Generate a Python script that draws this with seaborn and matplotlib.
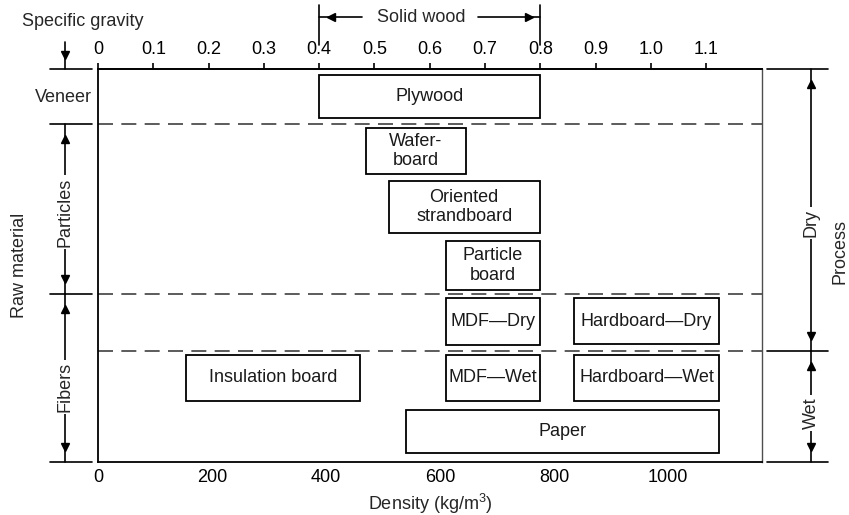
import matplotlib
matplotlib.use("Agg")
import numpy as np
import pandas as pd
import matplotlib.pyplot as plt
import seaborn as sns

# board products and their density ranges (kg/m3)
boards = ["Plywood", "Wafer-\nboard", "Oriented\nstrandboard", "Particle\nboard",
          "MDF—Dry", "Hardboard—Dry", "Insulation board", "MDF—Wet",
          "Hardboard—Wet", "Paper"]
dens_lo = [388, 470, 510, 610, 610, 835, 155, 610, 835, 540]
dens_hi = [776, 645, 775, 775, 775, 1090, 460, 775, 1090, 1090]
# vertical extent of each box on the chart (top -> bottom units)
row_top = [75, 128, 181, 241, 298, 298, 355, 355, 355, 410]
row_bot = [118, 174, 233, 290, 345, 344, 401, 401, 401, 453]

# dashed separators between raw material / process groups
separators = [124, 294, 351]

dens_ticks = [0, 200, 400, 600, 800, 1000]
sg_ticks = [0, 0.1, 0.2, 0.3, 0.4, 0.5, 0.6, 0.7, 0.8, 0.9, 1.0, 1.1]
sg_labels = ["0", "0.1", "0.2", "0.3", "0.4", "0.5", "0.6", "0.7", "0.8", "0.9", "1.0", "1.1"]
SG_FACTOR = 970  # kg/m3 per unit specific gravity on this chart

df = pd.DataFrame({"board": boards, "lo": dens_lo, "hi": dens_hi,
                   "top": row_top, "bot": row_bot})
df["width"] = df["hi"] - df["lo"]
df["mid"] = (df["top"] + df["bot"]) / 2
df["h"] = df["bot"] - df["top"]

sns.set_theme(style="white")
plt.rcParams["font.family"] = ["Liberation Sans", "DejaVu Sans"]
plt.rcParams["mathtext.fontset"] = "custom"
plt.rcParams["mathtext.rm"] = "Liberation Sans"
FS = 13

fig = plt.figure(figsize=(8.49, 5.15), dpi=100)
ax = fig.add_axes([98 / 849, 1 - 462 / 515, 664 / 849, 393 / 515])
ax.set_xlim(0, 1165)
ax.set_ylim(462, 69)

ax.barh(df["mid"], df["width"], left=df["lo"], height=df["h"],
        color="white", edgecolor="black", linewidth=1.3, zorder=3)
for _, r in df.iterrows():
    ax.text((r["lo"] + r["hi"]) / 2, r["mid"], r["board"], ha="center", va="center",
            fontsize=FS, linespacing=1.2, color="0.1", zorder=4)

for y in separators:
    ax.axhline(y, color="0.25", lw=1.2, dashes=(9, 5), zorder=2)

for s in ax.spines.values():
    s.set_color("black")
    s.set_linewidth(1.3)
ax.spines["right"].set_color("0.3")
ax.spines["right"].set_linewidth(1.0)

ax.set_yticks([])
ax.set_xticks(dens_ticks)
ax.set_xticklabels([str(t) for t in dens_ticks], fontsize=FS)
ax.tick_params(axis="x", direction="in", length=9, width=1.2, pad=5, colors="black")
ax.set_xlabel(r"Density (kg/m$\mathrm{^3}$)", fontsize=FS, labelpad=4)

sec = ax.secondary_xaxis("top", functions=(lambda d: d / SG_FACTOR, lambda s: s * SG_FACTOR))
sec.set_xticks(sg_ticks)
sec.set_xticklabels(sg_labels, fontsize=FS)
sec.tick_params(direction="out", length=4, width=1.2, pad=4, colors="black")
sec.spines["top"].set_linewidth(1.3)

k = dict(color="black", lw=1.2, clip_on=False)
mk = dict(color="black", ms=5.5, clip_on=False, ls="none")
wb = dict(facecolor="white", edgecolor="none", pad=1.5)

# solid wood bracket above the top axis
x0, x1 = 0.4 * SG_FACTOR, 0.8 * SG_FACTOR
ax.plot([x0, x0], [5, 45], **k)
ax.plot([x1, x1], [5, 45], **k)
ax.plot([x0, x0 + 75], [17, 17], **k)
ax.plot([x1 - 110, x1], [17, 17], **k)
ax.plot([x0 + 20], [17], marker="<", **mk)
ax.plot([x1 - 20], [17], marker=">", **mk)
ax.text((x0 + x1) / 2 - 15, 18, "Solid wood", ha="center", va="center", fontsize=FS)

# left side: raw material
ax.text(-27, 21, "Specific gravity", ha="center", va="center", fontsize=FS)
ax.plot([-58, -58], [42, 69], **k)
ax.plot([-58], [55], marker="v", **mk)
for y in [69, 124, 294, 462]:
    ax.plot([-84, -10], [y, y], **k)
ax.text(-10, 97, "Veneer", ha="right", va="center", fontsize=FS)
for (ya, yb, lab, yl) in [(124, 294, "Particles", 212), (294, 462, "Fibers", 387)]:
    ax.plot([-58, -58], [ya, yb], **k)
    ax.plot([-58], [ya + 15], marker="^", **mk)
    ax.plot([-58], [yb - 15], marker="v", **mk)
    ax.text(-58, yl, lab, rotation=90, ha="center", va="center", fontsize=FS, bbox=wb)
ax.text(-137, 265, "Raw material", rotation=90, ha="center", va="center", fontsize=FS)

# right side: process
for y in [69, 351, 462]:
    ax.plot([1174, 1281], [y, y], **k)
for (ya, yb, lab, yl) in [(69, 351, "Dry", 223), (351, 462, "Wet", 413)]:
    ax.plot([1251, 1251], [ya, yb], **k)
    ax.plot([1251], [ya + 15], marker="^", **mk)
    ax.plot([1251], [yb - 15], marker="v", **mk)
    ax.text(1251, yl, lab, rotation=90, ha="center", va="center", fontsize=FS, bbox=wb)
ax.text(1302, 252, "Process", rotation=90, ha="center", va="center", fontsize=FS)

fig.savefig("out.png", dpi=100, facecolor="white")
